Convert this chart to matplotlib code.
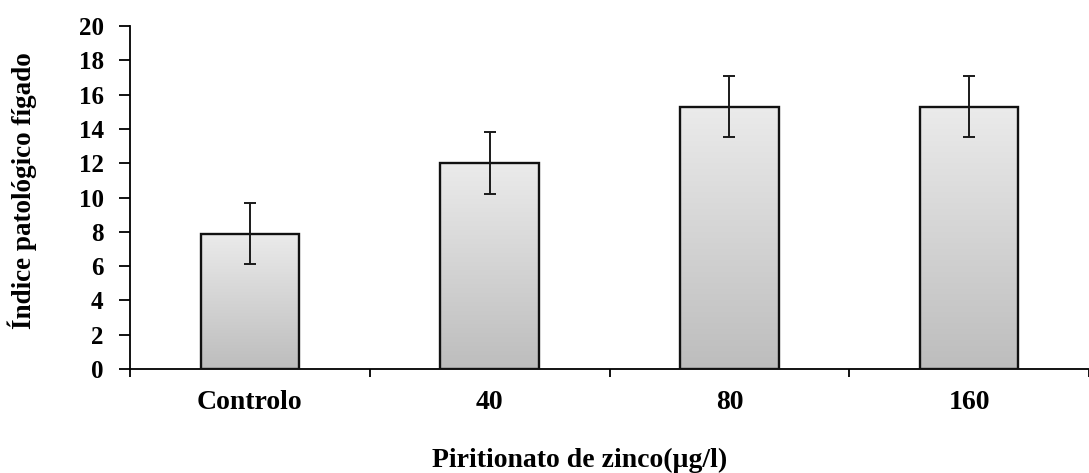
import matplotlib.pyplot as plt
import numpy as np
from matplotlib.colors import LinearSegmentedColormap

# data
categories = ["Controlo", "40", "80", "160"]
values = [7.9, 12.0, 15.3, 15.3]
errors = [1.8, 1.8, 1.8, 1.8]

plt.rcParams['font.family'] = ['Liberation Serif', 'DejaVu Serif']
plt.rcParams['font.weight'] = 'bold'

fig = plt.figure(figsize=(10.89, 4.73), dpi=100)
ax = fig.add_axes([0.1194, 0.2199, 0.8806, 0.7251])

x = np.arange(len(categories))
bars = ax.bar(x, values, width=0.41, color='none', edgecolor='#111111', linewidth=1.7, zorder=3)

# vertical grey gradient inside each bar
cmap = LinearSegmentedColormap.from_list('g', ['#bdbdbd', '#ebebeb'])
grad = np.linspace(0, 1, 256).reshape(-1, 1)
for b in bars:
    x0, y0 = b.get_x(), b.get_y()
    w, h = b.get_width(), b.get_height()
    im = ax.imshow(grad, cmap=cmap, extent=[x0, x0 + w, y0, y0 + h],
                   origin='lower', aspect='auto', zorder=2)
    im.set_clip_path(b)

ax.errorbar(x, values, yerr=errors, fmt='none', ecolor='#1a1a1a', elinewidth=1.4,
            capsize=4.5, capthick=1.4, zorder=4)

ax.set_xlim(-0.5, 3.49)
ax.set_ylim(0, 20)
ax.set_yticks(range(0, 21, 2))

# boundary ticks as majors, category labels as minors
ax.set_xticks(np.arange(-0.5, 3.6, 1.0))
ax.set_xticklabels([])
ax.set_xticks(x, minor=True)
ax.set_xticklabels(categories, minor=True)
ax.tick_params(axis='x', which='major', direction='out', length=6, width=1.3)
ax.tick_params(axis='x', which='minor', length=0, pad=15, labelsize=20)
ax.tick_params(axis='y', direction='out', length=8, width=1.3, pad=11, labelsize=18)

for s in ['top', 'right']:
    ax.spines[s].set_visible(False)
for s in ['left', 'bottom']:
    ax.spines[s].set_linewidth(1.3)

ax.set_ylabel("Índice patológico fígado", fontsize=19.5, fontweight='bold', va='center')
ax.yaxis.set_label_coords(-0.1126, 0.519)
ax.set_xlabel("Piritionato de zinco(µg/l)", fontsize=20, fontweight='bold', va='baseline')
ax.xaxis.set_label_coords(0.469, -0.2857)

fig.savefig("out.png", dpi=100)
